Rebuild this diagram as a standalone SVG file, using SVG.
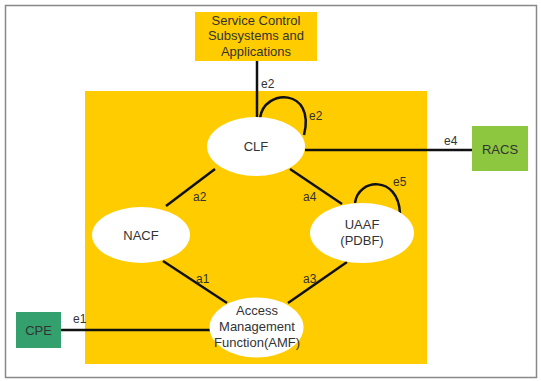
<svg xmlns="http://www.w3.org/2000/svg" width="541" height="381" viewBox="0 0 541 381">
<style>
text{font-family:"Liberation Sans",Arial,sans-serif;fill:#333;text-anchor:middle}
.n{font-size:13px}
.l{font-size:12px;text-anchor:start}
.e{fill:#fff;stroke:none}
.c{stroke:#111;stroke-width:2.5;fill:none}
</style>
<rect x="0" y="0" width="541" height="381" fill="#fff"/>
<rect x="5.5" y="5.5" width="531" height="372" fill="none" stroke="#888" stroke-width="1.5"/>
<rect id="domain" x="85" y="91" width="342" height="273" fill="#FFCC00"/>
<g id="connectors">
<line class="c" x1="257" y1="61" x2="257" y2="118"/>
<path class="c" d="M260,118 C264,88 316,88 304,135"/>
<line class="c" x1="305" y1="150" x2="472" y2="150"/>
<line class="c" x1="215" y1="169" x2="166" y2="206"/>
<line class="c" x1="290" y1="169" x2="342" y2="204"/>
<path class="c" d="M355,203 C358,178 398,175 400,213"/>
<line class="c" x1="163" y1="261" x2="227" y2="303"/>
<line class="c" x1="347" y1="262" x2="288" y2="303"/>
<line class="c" x1="61" y1="330" x2="211" y2="330"/>
<text class="l" x="261" y="88">e2</text>
<text class="l" x="309" y="120">e2</text>
<text class="l" x="444" y="145">e4</text>
<text class="l" x="193" y="201">a2</text>
<text class="l" x="303" y="201">a4</text>
<text class="l" x="393" y="186">e5</text>
<text class="l" x="196" y="283">a1</text>
<text class="l" x="303" y="283">a3</text>
<text class="l" x="73" y="323">e1</text>
</g>
<g id="service">
<rect x="195" y="12" width="122" height="49" fill="#FFCC00"/>
<text class="n" x="256" y="25">Service Control</text>
<text class="n" x="256" y="40">Subsystems and</text>
<text class="n" x="256" y="56">Applications</text>
</g>
<g id="clf">
<ellipse class="e" cx="256" cy="146.5" rx="49" ry="29.5"/>
<text class="n" x="256" y="151">CLF</text>
</g>
<g id="nacf">
<ellipse class="e" cx="141" cy="235" rx="49" ry="28"/>
<text class="n" x="141" y="240">NACF</text>
</g>
<g id="uaaf">
<ellipse class="e" cx="362" cy="233" rx="52" ry="30"/>
<text class="n" x="362" y="229">UAAF</text>
<text class="n" x="362" y="245">(PDBF)</text>
</g>
<g id="amf">
<ellipse class="e" cx="256.5" cy="327.5" rx="47" ry="30"/>
<text class="n" x="257" y="315">Access</text>
<text class="n" x="257" y="331">Management</text>
<text class="n" x="257" y="347">Function(AMF)</text>
</g>
<g id="racs">
<rect x="472" y="126" width="56" height="45" fill="#8DC63F"/>
<text class="n" x="500" y="154">RACS</text>
</g>
<g id="cpe">
<rect x="16" y="312" width="45" height="36" fill="#33A06E"/>
<text class="n" x="38.5" y="335">CPE</text>
</g>
</svg>
